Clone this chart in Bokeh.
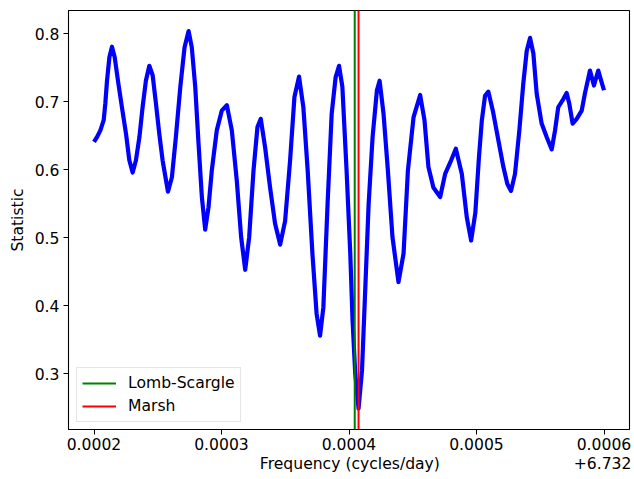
from bokeh.plotting import figure
from bokeh.models import FixedTicker, PrintfTickFormatter, Range1d, Legend, LegendItem
from bokeh.embed import file_html
from bokeh.resources import INLINE

FREQ_BASE = 6.732
# frequency offsets from FREQ_BASE, in units of 1e-4 cycles/day
freq_offset_e4 = [
    2.000, 2.023, 2.050, 2.076, 2.089, 2.102, 2.121, 2.141, 2.162, 2.188,
    2.219, 2.251, 2.277, 2.303, 2.329, 2.356, 2.381, 2.407, 2.434, 2.460,
    2.486, 2.512, 2.538, 2.580, 2.611, 2.642, 2.677, 2.710, 2.742, 2.767,
    2.794, 2.820, 2.846, 2.872, 2.898, 2.924, 2.963, 3.002, 3.042, 3.081,
    3.120, 3.154, 3.186, 3.217, 3.251, 3.282, 3.308, 3.342, 3.381, 3.420,
    3.460, 3.499, 3.538, 3.572, 3.608, 3.642, 3.676, 3.713, 3.746, 3.773,
    3.799, 3.832, 3.864, 3.895, 3.922, 3.948, 3.981, 4.010, 4.028, 4.049,
    4.075, 4.102, 4.128, 4.154, 4.185, 4.219, 4.240, 4.271, 4.305, 4.341,
    4.388, 4.428, 4.462, 4.506, 4.558, 4.592, 4.623, 4.662, 4.715, 4.754,
    4.801, 4.838, 4.885, 4.924, 4.958, 4.991, 5.019, 5.042, 5.067, 5.093,
    5.128, 5.172, 5.211, 5.242, 5.271, 5.302, 5.336, 5.367, 5.394, 5.420,
    5.446, 5.472, 5.511, 5.551, 5.590, 5.616, 5.641, 5.681, 5.707, 5.728,
    5.754, 5.786, 5.825, 5.850, 5.890, 5.921, 5.955, 5.981, 6.000,
]
statistic = [
    0.641, 0.648, 0.658, 0.673, 0.698, 0.731, 0.766, 0.781, 0.766, 0.731,
    0.692, 0.653, 0.614, 0.596, 0.614, 0.648, 0.692, 0.731, 0.753, 0.739,
    0.697, 0.653, 0.614, 0.568, 0.589, 0.648, 0.722, 0.780, 0.804, 0.780,
    0.722, 0.638, 0.560, 0.512, 0.545, 0.599, 0.658, 0.687, 0.695, 0.658,
    0.584, 0.501, 0.453, 0.501, 0.599, 0.663, 0.675, 0.633, 0.574, 0.521,
    0.490, 0.525, 0.614, 0.707, 0.737, 0.692, 0.599, 0.477, 0.388, 0.356,
    0.398, 0.550, 0.682, 0.736, 0.753, 0.722, 0.599, 0.477, 0.378, 0.300,
    0.249, 0.305, 0.427, 0.550, 0.648, 0.717, 0.731, 0.682, 0.599, 0.501,
    0.435, 0.477, 0.599, 0.677, 0.710, 0.673, 0.604, 0.574, 0.560, 0.594,
    0.614, 0.631, 0.594, 0.530, 0.496, 0.537, 0.618, 0.673, 0.709, 0.715,
    0.687, 0.643, 0.604, 0.579, 0.569, 0.594, 0.658, 0.727, 0.775, 0.794,
    0.771, 0.712, 0.668, 0.648, 0.630, 0.658, 0.692, 0.704, 0.713, 0.697,
    0.668, 0.675, 0.687, 0.712, 0.746, 0.724, 0.746, 0.729, 0.717,
]
lomb_scargle_peak_e4 = 4.045
marsh_peak_e4 = 4.075

x_ticks = [0.0002, 0.0003, 0.0004, 0.0005, 0.0006]
y_ticks = [0.3, 0.4, 0.5, 0.6, 0.7, 0.8]

freq_offset = [v * 1e-4 for v in freq_offset_e4]
lomb_scargle_peak = lomb_scargle_peak_e4 * 1e-4
marsh_peak = marsh_peak_e4 * 1e-4

FONT = "DejaVu Sans"
FS = "15.6px"
NBSP = "\u00a0"

p = figure(width=634, height=479, output_backend="svg", toolbar_location=None,
           x_range=Range1d(0.00018, 0.00062), y_range=Range1d(0.2181, 0.8343),
           min_border_left=68, min_border_right=5, min_border_top=10, min_border_bottom=50)
p.grid.visible = False
p.outline_line_color = "black"
p.outline_line_width = 1.1
p.background_fill_color = "white"
p.border_fill_color = "white"

p.line(freq_offset, statistic, color="blue", line_width=4.2, line_join="round")
ls = p.segment(x0=[lomb_scargle_peak], y0=[0.0], x1=[lomb_scargle_peak], y1=[1.0],
               color="green", line_width=2)
ms = p.segment(x0=[marsh_peak], y0=[0.0], x1=[marsh_peak], y1=[1.0],
               color="red", line_width=2)

legend = Legend(items=[LegendItem(label="Lomb-Scargle", renderers=[ls]),
                       LegendItem(label="Marsh", renderers=[ms])],
                location=(8, 7), glyph_width=34, glyph_height=20, label_standoff=12,
                padding=5, spacing=3, margin=0,
                label_text_font=FONT, label_text_font_size=FS, label_text_color="black",
                border_line_color="#cccccc", border_line_width=1,
                background_fill_alpha=0.8)
p.add_layout(legend, "center")

p.xaxis.ticker = FixedTicker(ticks=x_ticks)
p.yaxis.ticker = FixedTicker(ticks=y_ticks)
p.xaxis.formatter = PrintfTickFormatter(format="%.4f")
p.yaxis.formatter = PrintfTickFormatter(format="%.1f")
for ax in (p.xaxis, p.yaxis):
    ax.minor_tick_line_color = None
    ax.major_tick_in = 0
    ax.major_tick_out = 5
    ax.major_tick_line_color = "black"
    ax.axis_line_color = "black"
    ax.major_label_text_font = FONT
    ax.major_label_text_font_size = FS
    ax.major_label_text_color = "black"
    ax.axis_label_text_font = FONT
    ax.axis_label_text_font_size = FS
    ax.axis_label_text_font_style = "normal"
    ax.axis_label_text_color = "black"

# x-axis label with the offset text (+6.732) placed at the right end of the same line
offset_text = "+%g" % FREQ_BASE
p.xaxis.axis_label = NBSP * 39 + "Frequency (cycles/day)" + NBSP * 27 + offset_text
p.yaxis.axis_label = "Statistic"
p.xaxis.major_label_standoff = 3
p.xaxis.axis_label_standoff = 2
p.yaxis.major_label_standoff = 4
p.yaxis.axis_label_standoff = 5

open("out.html", "w").write(file_html(p, INLINE))
